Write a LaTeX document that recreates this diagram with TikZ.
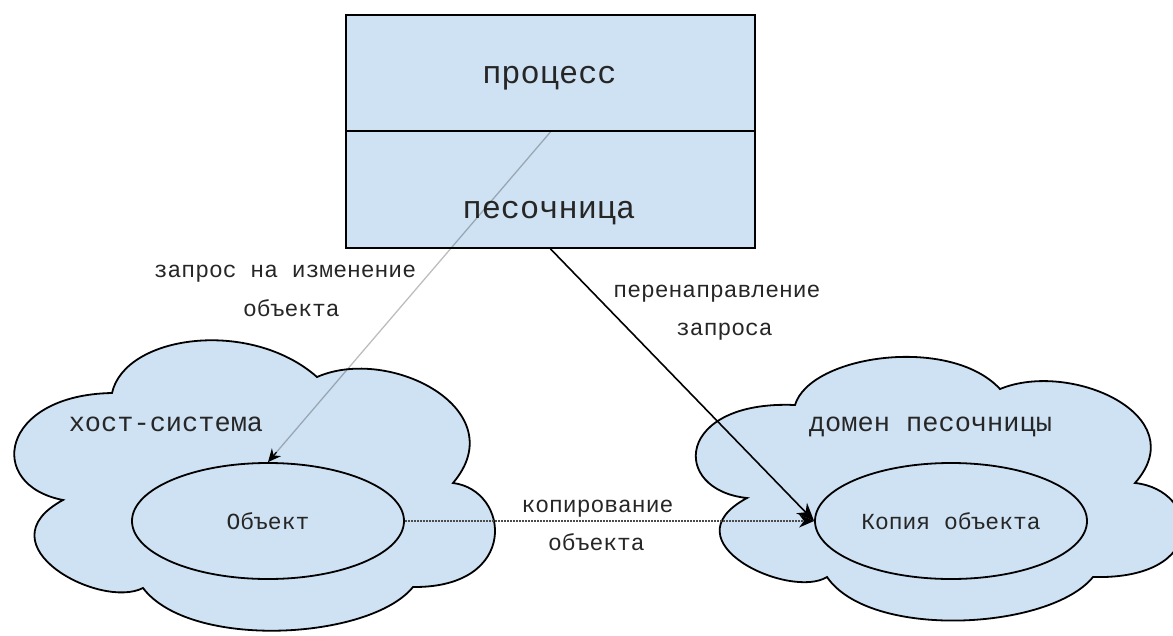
\documentclass[tikz,border=0pt]{standalone}
\usepackage{fontspec}
\setmonofont{Liberation Mono}
\usetikzlibrary{shapes.geometric,arrows.meta,calc}
\definecolor{paleblue}{HTML}{CFE2F3}
\definecolor{ink}{HTML}{262626}
\tikzset{
  outline/.style={draw=black, line width=1.8pt, fill=paleblue},
  bigtext/.style={font=\ttfamily\fontsize{32}{36}\selectfont, text=ink, anchor=base, inner sep=0pt},
  midtext/.style={font=\ttfamily\fontsize{27}{30}\selectfont, text=ink, anchor=base, inner sep=0pt},
  smallfont/.style={font=\ttfamily\fontsize{23}{26}\selectfont, text=ink},
  smalltext/.style={smallfont, anchor=base, inner sep=0pt},
  conn/.style={line width=1.6pt},
}
\begin{document}
\begin{tikzpicture}[x=1pt,y=-1pt]
\useasboundingbox (0,0) rectangle (1173,635);
\clip (0,0) rectangle (1173,635);

% host system cloud
\draw[outline] (112,393)
  .. controls (125,335) and (250,318) .. (317,377)
  .. controls (390,345) and (515,410) .. (453,483)
  .. controls (510,490) and (520,588) .. (413,587)
  .. controls (370,640) and (190,650) .. (143,588)
  .. controls (100,610) and (-20,545) .. (63,500)
  .. controls (-15,485) and (0,395) .. cycle;

% sandbox domain cloud
\draw[outline] (795,405)
  .. controls (810,355) and (950,335) .. (1000,389)
  .. controls (1070,360) and (1195,415) .. (1135,483)
  .. controls (1200,490) and (1210,580) .. (1093,577)
  .. controls (1050,630) and (870,640) .. (827,577)
  .. controls (790,600) and (665,542) .. (747,498)
  .. controls (670,490) and (675,400) .. cycle;

\node[midtext] (hostlbl) at (166,431) {хост-система};
\node[midtext] (domlbl) at (930.5,431) {домен песочницы};

% objects
\node[outline, ellipse, minimum width=272pt, minimum height=116pt, inner sep=0pt, smallfont] (obj) at (268,521) {Объект};
\node[outline, ellipse, minimum width=272pt, minimum height=116pt, inner sep=0pt, smallfont] (copy) at (951,521) {Копия объекта};

% process / sandbox box
\node[outline, rectangle, minimum width=409pt, minimum height=116pt, inner sep=0pt] (proc) at (550.5,73) {};
\node[outline, rectangle, minimum width=409pt, minimum height=117pt, inner sep=0pt] (sand) at (550.5,189.5) {};
\node[bigtext] (proclbl) at (549.5,83) {процесс};
\node[bigtext] (sandlbl) at (549,218) {песочница};

% request to modify the object
\draw[line width=1.3pt, draw opacity=0.26, shorten >=10pt] (proc.south) -- (obj.north);
\draw[line width=1.3pt, -{Stealth[length=13pt,width=12pt]}] ($(obj.north)!13pt!(proc.south)$) -- (obj.north);
\node[smalltext] (reqlbl1) at (285,277) {запрос на изменение};
\node[smalltext] (reqlbl2) at (291.5,316) {объекта};

% redirected request
\draw[conn, -{Stealth[length=18pt,width=15pt]}] (sand.south) -- (copy.west);
\node[smalltext] (redlbl1) at (717,297) {перенаправление};
\node[smalltext] (redlbl2) at (724.5,335) {запроса};

% copying
\draw[line width=1.4pt, black!70, dash pattern=on 1pt off 0.5pt, -{Stealth[length=15pt,width=13pt, black]}] (obj.east) -- (copy.west);
\node[smalltext] (cplbl1) at (597.5,512) {копирование};
\node[smalltext] (cplbl2) at (596.5,550) {объекта};
\end{tikzpicture}
\end{document}
